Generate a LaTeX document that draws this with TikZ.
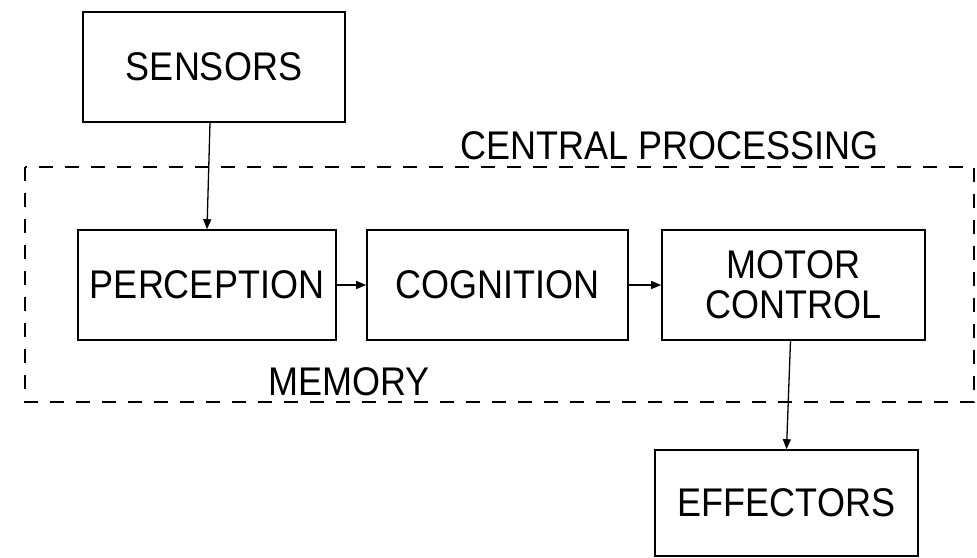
\documentclass[tikz,border=0pt]{standalone}
\usepackage{fontspec}
\setmainfont{Liberation Sans}[FakeStretch=0.9]
\usetikzlibrary{arrows.meta}
\begin{document}
\begin{tikzpicture}[x=1pt,y=-1pt,
  every node/.style={font=\fontsize{40}{40}\selectfont},
  box/.style={draw, line width=1.6pt, inner sep=0pt, minimum height=110pt, align=center},
  conn/.style={line width=1.3pt, -{Triangle[length=10pt,width=8pt]}},
  region/.style={line width=1.6pt, dash pattern=on 14pt off 12pt},
  lbl/.style={anchor=base west, inner sep=0pt}]
\useasboundingbox (0,0) rectangle (977,557);
\node[box, minimum width=262pt] (sensors) at (214,67) {SENSORS};
\node[box, minimum width=258pt] (perc) at (207,285) {PERCEPTION};
\node[box, minimum width=261pt] (cog) at (497.5,285) {COGNITION};
\node[box, minimum width=263pt] (motor) at (793.5,285) {MOTOR\\CONTROL};
\node[box, minimum width=263pt, minimum height=106pt] (eff) at (786.5,503) {EFFECTORS};
\draw[region] (25,167) rectangle (974,402);
\node[lbl] (cp) at (460,159) {CENTRAL PROCESSING};
\node[lbl] (mem) at (268,395) {MEMORY};
\draw[conn] ([xshift=-4pt]sensors.south) -- (perc.north);
\draw[conn] (perc.east) -- (cog.west);
\draw[conn] (cog.east) -- (motor.west);
\draw[conn] ([xshift=-3pt]motor.south) -- (eff.north);
\end{tikzpicture}
\end{document}
